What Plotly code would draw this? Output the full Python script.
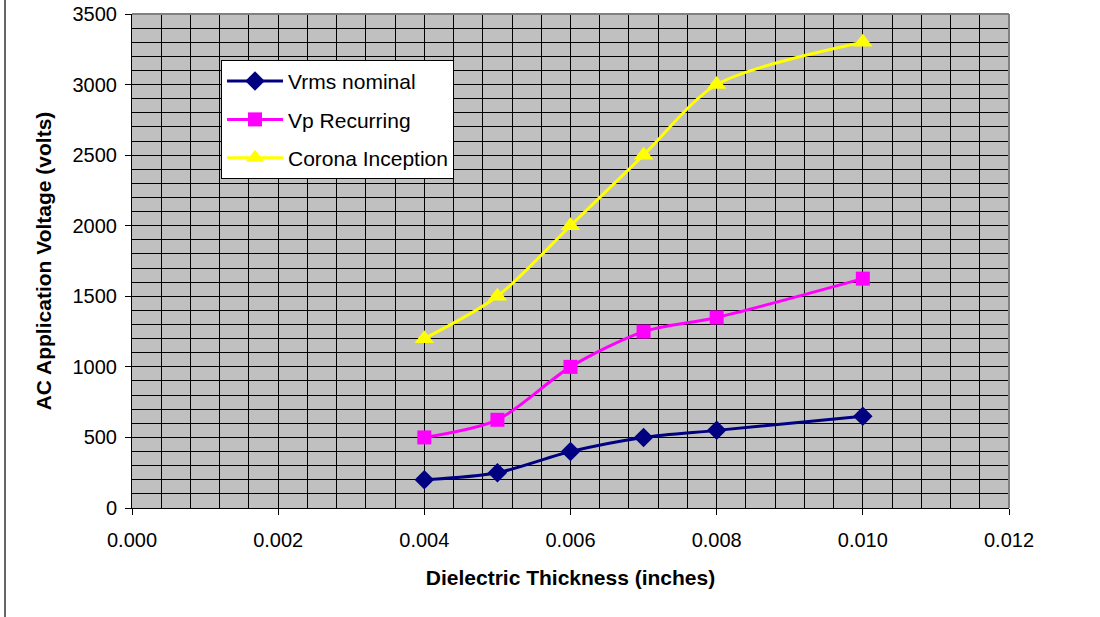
import plotly.graph_objects as go

# Dielectric thickness (inches)
thickness = [0.004, 0.005, 0.006, 0.007, 0.008, 0.010]

# AC application voltages (volts)
vrms_nominal = [200, 250, 400, 500, 550, 650]
vp_recurring = [500, 625, 1000, 1250, 1350, 1625]
corona_inception = [1200, 1500, 2000, 2500, 3000, 3300]

series_names = ["Vrms nominal", "Vp Recurring", "Corona Inception"]

FONT = "Liberation Sans, Arial, sans-serif"
TICK_SIZE = 20
TEXT_SIZE = 21

fig = go.Figure()

styles = [
    dict(color="#000080", symbol="diamond", size=15),
    dict(color="#FF00FF", symbol="square", size=14),
    dict(color="#FFFF00", symbol="triangle-up", size=17),
]

for name, ys, st in zip(series_names, [vrms_nominal, vp_recurring, corona_inception], styles):
    fig.add_trace(go.Scatter(
        x=thickness, y=ys, name=name, mode="lines+markers",
        legendgroup=name,
        line=dict(color=st["color"], width=3, shape="spline", smoothing=0.8),
        marker=dict(color=st["color"], symbol=st["symbol"], size=st["size"],
                    line=dict(width=0)),
    ))

axis_common = dict(
    automargin=False,
    showgrid=True, gridcolor="black", gridwidth=1,
    showline=True, linecolor="black", linewidth=1,
    ticks="outside", ticklen=6, tickcolor="black", tickwidth=1,
    zeroline=False,
    tickfont=dict(family=FONT, size=TICK_SIZE, color="black"),
)

fig.update_xaxes(
    range=[0, 0.012], dtick=0.002, tick0=0, tickformat=".3f",
    ticklabelstandoff=8,
    minor=dict(dtick=0.0004, showgrid=True, gridcolor="black", gridwidth=1, ticks=""),
    title=dict(text="<b>Dielectric Thickness (inches)</b>",
               font=dict(family=FONT, size=TEXT_SIZE, color="black"), standoff=20),
    **axis_common,
)
fig.update_yaxes(
    range=[0, 3500], dtick=500, tick0=0,
    ticklabelstandoff=4,
    minor=dict(dtick=100, showgrid=True, gridcolor="black", gridwidth=1, ticks=""),
    title=dict(text="<b>AC Application Voltage (volts)</b>",
               font=dict(family=FONT, size=TEXT_SIZE, color="black"), standoff=15),
    **axis_common,
)

# Plot-area frame on the top and right; outer chart edge on the left
fig.add_shape(type="line", xref="paper", yref="paper", x0=0, x1=1, y0=1, y1=1,
              line=dict(color="#808080", width=2))
fig.add_shape(type="line", xref="paper", yref="paper", x0=1, x1=1, y0=0, y1=1,
              line=dict(color="#808080", width=2))
fig.add_shape(type="line", xref="paper", yref="paper", x0=-0.1448, x1=-0.1448,
              y0=-0.25, y1=1.05, line=dict(color="#333333", width=1.5))

fig.update_layout(
    width=1100, height=617,
    margin=dict(l=132, r=91, t=14, b=109),
    paper_bgcolor="white",
    plot_bgcolor="#C0C0C0",
    font=dict(family=FONT, size=TEXT_SIZE, color="black"),
    showlegend=True,
    legend=dict(
        x=0.1015, y=0.907, xanchor="left", yanchor="top",
        bgcolor="white", bordercolor="black", borderwidth=1,
        font=dict(family=FONT, size=TEXT_SIZE, color="black"),
        tracegroupgap=8, traceorder="grouped", itemwidth=56,
    ),
)

fig.write_html("out.html")
